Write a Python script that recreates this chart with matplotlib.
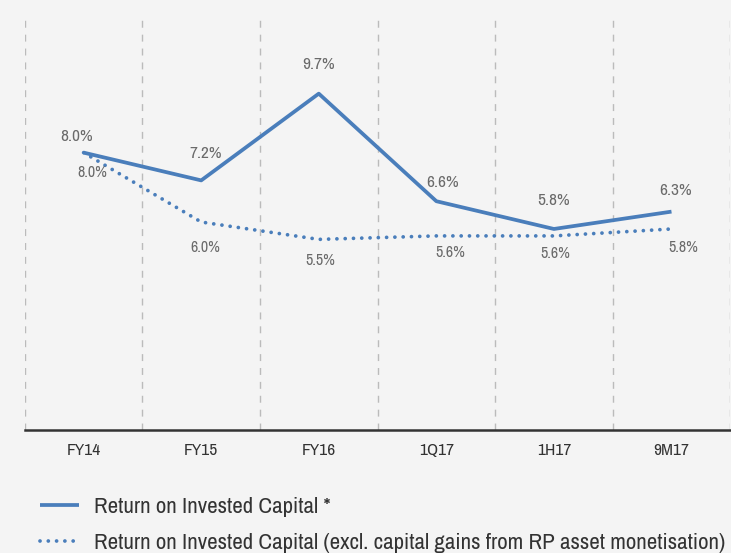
import matplotlib.pyplot as plt
from matplotlib import font_manager as fm
import numpy as np

# pick a narrow face if one is installed (reference uses a condensed DIN-like font)
ttf = fm.fontManager.ttflist
narrow = sorted({f.name for f in ttf if 'Condensed' in f.name or 'Narrow' in f.name})
cond = sorted({f.name for f in ttf
               if f.stretch in ('condensed', 'semi-condensed', 'extra-condensed', 'ultra-condensed')})
if narrow:
    plt.rcParams['font.family'] = [narrow[0], 'DejaVu Sans']
elif cond:
    plt.rcParams['font.family'] = [cond[0], 'DejaVu Sans']
    plt.rcParams['font.stretch'] = 'condensed'
else:
    plt.rcParams['font.family'] = ['DejaVu Sans']

periods = ['FY14', 'FY15', 'FY16', '1Q17', '1H17', '9M17']
roic = [8.0, 7.2, 9.7, 6.6, 5.8, 6.3]
roic_excl = [8.0, 6.0, 5.5, 5.6, 5.6, 5.8]

# label nudges in pixels (dx, dy)
roic_lbl_off = [(-7, 16), (4, 27), (0, 29), (6, 19), (0, 28), (4, 21)]
excl_lbl_off = [(9, -20), (4, -25), (2, -21), (14, -17), (1, -18), (12, -19)]

blue = '#4A7EBB'
bg = '#F4F4F4'
txt_gray = '#6A6A6A'

fig = plt.figure(figsize=(7.31, 5.53), dpi=100, facecolor=bg)
ax = fig.add_axes([0.034, 0.222, 0.965, 0.753])
ax.set_facecolor(bg)

x = np.arange(len(periods))
ax.plot(x, roic, color=blue, lw=2.7, solid_capstyle='butt',
        label='Return on Invested Capital *')
ax.plot(x, roic_excl, color=blue, lw=2.7, linestyle=(0, (0.01, 2.2)),
        dash_capstyle='round',
        label='Return on Invested Capital (excl. capital gains from RP asset monetisation)')

for i, v in enumerate(roic):
    ax.annotate(f'{v:.1f}%', (i, v), xytext=roic_lbl_off[i], textcoords='offset pixels',
                ha='center', va='center', fontsize=12.5, color=txt_gray)
for i, v in enumerate(roic_excl):
    ax.annotate(f'{v:.1f}%', (i, v), xytext=excl_lbl_off[i], textcoords='offset pixels',
                ha='center', va='center', fontsize=11.5, color=txt_gray)

# dashed separators between periods
for b in np.arange(len(periods) + 1) - 0.5:
    ax.axvline(b, color='#BBBBBB', lw=1, linestyle=(0, (5, 5)), zorder=0)

ax.set_xlim(-0.5, len(periods) - 0.5)
ax.set_ylim(0, 12)
ax.set_xticks(x)
ax.set_xticklabels(periods, fontsize=12.5, color='#333333')
ax.tick_params(axis='x', length=0, pad=9)
ax.set_yticks([])
for s in ['top', 'right', 'left']:
    ax.spines[s].set_visible(False)
ax.spines['bottom'].set_color('#333333')
ax.spines['bottom'].set_linewidth(1.8)

fs = 16.5
while True:
    leg = fig.legend(loc='upper left', bbox_to_anchor=(40 / 731, 0.101), frameon=False,
                     fontsize=fs, handlelength=1.7, handletextpad=0.65,
                     labelspacing=0.67, borderaxespad=0, borderpad=0)
    for t in leg.get_texts():
        t.set_color('#333333')
    fig.canvas.draw()
    right = max(t.get_window_extent().x1 for t in leg.get_texts())
    if right <= 727 or fs <= 8:
        break
    leg.remove()
    fs -= 0.25

fig.savefig('out.png', dpi=100, facecolor=bg)
